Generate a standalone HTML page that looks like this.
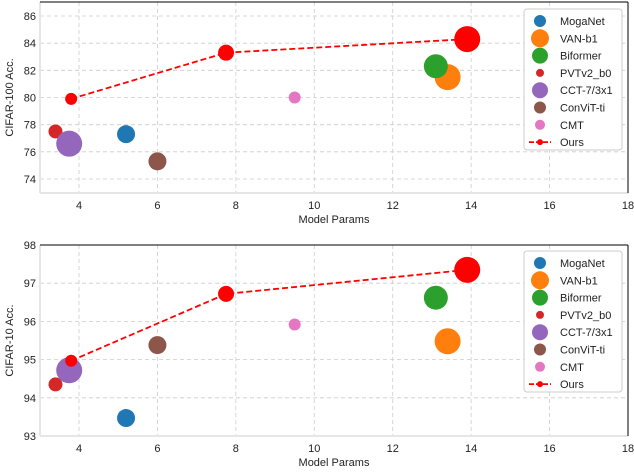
<!DOCTYPE html>
<html><head><meta charset="utf-8"><style>
body{margin:0;background:#fff;}
svg text{font-family:"Liberation Sans","DejaVu Sans",sans-serif;font-size:11px;fill:#222;}
</style></head><body>
<svg id="c" width="634" height="468"></svg>
<script>
const models = ["MogaNet","VAN-b1","Biformer","PVTv2_b0","CCT-7/3x1","ConViT-ti","CMT"];
const colors = ["#1f77b4","#ff7f0e","#2ca02c","#d62728","#9467bd","#8c564b","#e377c2"];
const params = [5.2,13.4,13.1,3.4,3.75,6.0,9.5];
const radii = [9,13,12,7,13,9,6];
const cifar100 = [77.3,81.5,82.3,77.5,76.6,75.3,80.0];
const cifar10 = [93.47,95.48,96.62,94.35,94.72,95.38,95.92];
const oursParams = [3.8,7.75,13.9];
const oursRadii = [6,8,13];
const ours100 = [79.9,83.3,84.3];
const ours10 = [94.97,96.72,97.35];
const xTicks = [4,6,8,10,12,14,16,18];
const yTicks100 = [74,76,78,80,82,84,86];
const yTicks10 = [93,94,95,96,97,98];

const svg = document.getElementById('c');
const NS = "http://www.w3.org/2000/svg";
function mk(t, a, parent){const e=document.createElementNS(NS,t);for(const k in a)e.setAttribute(k,a[k]);(parent||svg).appendChild(e);return e;}
const sx = v => 79 + (v-4)*(628-79)/14;

function panel(p){
  const g = mk('g',{});
  
  
  const sy = v => p.yA + (v-p.vA)*(p.yB-p.yA)/(p.vB-p.vA);
  const L=40,R=628,T=p.top,B=p.bottom;
  xTicks.forEach(t=>{
    const l=mk('line',{x1:sx(t),x2:sx(t),y1:T,y2:B,stroke:'#ccc','stroke-dasharray':'4,3','stroke-width':0.8},g);
    
    
    if(t<18){const tx=mk('text',{x:sx(t),y:B+16,'text-anchor':'middle'},g);tx.textContent=t;
    
    }
  });
  const t18=mk('text',{x:628,y:B+16,'text-anchor':'middle'},g);t18.textContent='18';
  p.yTicks.forEach(t=>{
    const l=mk('line',{x1:L,x2:R,y1:sy(t),y2:sy(t),stroke:'#ccc','stroke-dasharray':'4,3','stroke-width':0.8},g);
    
    
    const tx=mk('text',{x:36,y:sy(t)+4,'text-anchor':'end'},g);tx.textContent=t;
    
    
  });
  mk('line',{x1:L,x2:L,y1:T,y2:B,stroke:'#e6e6e6','stroke-width':2},g);
  mk('line',{x1:L,x2:R,y1:B,y2:B,stroke:'#e6e6e6','stroke-width':2},g);
  mk('line',{x1:L,x2:R,y1:T,y2:T,stroke:'#000','stroke-width':1},g);
  mk('line',{x1:R,x2:R,y1:T,y2:B,stroke:'#000','stroke-width':1},g);
  models.forEach((m,i)=>{
    const c=mk('circle',{cx:sx(params[i]),cy:sy(p.vals[i]),r:radii[i],fill:colors[i]},g);
    
    
  });
  const pts=oursParams.map((x,i)=>sx(x)+','+sy(p.ours[i])).join(' ');
  const pl=mk('polyline',{points:pts,fill:'none',stroke:'#f00','stroke-width':1.8,'stroke-dasharray':'6,3'},g);
  
  
  oursParams.forEach((x,i)=>{
    const c=mk('circle',{cx:sx(x),cy:sy(p.ours[i]),r:oursRadii[i],fill:'#f00'},g);
    
    
  });
  const xl=mk('text',{x:334,y:B+30,'text-anchor':'middle'},g);xl.textContent='Model Params';
  
  
  const yl=mk('text',{x:0,y:0,'text-anchor':'middle',transform:`translate(13,${(T+B)/2}) rotate(-90)`},g);yl.textContent=p.ylabel;
  
  
  // legend
  const lg=mk('g',{},g);
  
  
  const ly=p.legTop;
  mk('rect',{x:524,y:ly,width:98,height:141,rx:3,fill:'#fff',stroke:'#ccc'},lg);
  const lr=[6,9,8,4,8,6,5];
  models.concat(['Ours']).forEach((m,i)=>{
    const yy=ly+12+i*17.3;
    if(i<7) mk('circle',{cx:540,cy:yy,r:lr[i],fill:colors[i]},lg);
    else {mk('line',{x1:529,x2:551,y1:yy,y2:yy,stroke:'#f00','stroke-width':1.8,'stroke-dasharray':'5,2'},lg);mk('circle',{cx:540,cy:yy,r:3,fill:'#f00'},lg);}
    const tx=mk('text',{x:560,y:yy+4},lg);tx.textContent=m;
    
    
  });
}
panel({name:'cifar100-panel',top:2,bottom:193,yA:16,vA:86,yB:179,vB:74,yTicks:yTicks100,vals:cifar100,ours:ours100,ylabel:'CIFAR-100 Acc.',legTop:9});
panel({name:'cifar10-panel',top:245,bottom:436,yA:245,vA:98,yB:436,vB:93,yTicks:yTicks10,vals:cifar10,ours:ours10,ylabel:'CIFAR-10 Acc.',legTop:251});
</script>
</body></html>
